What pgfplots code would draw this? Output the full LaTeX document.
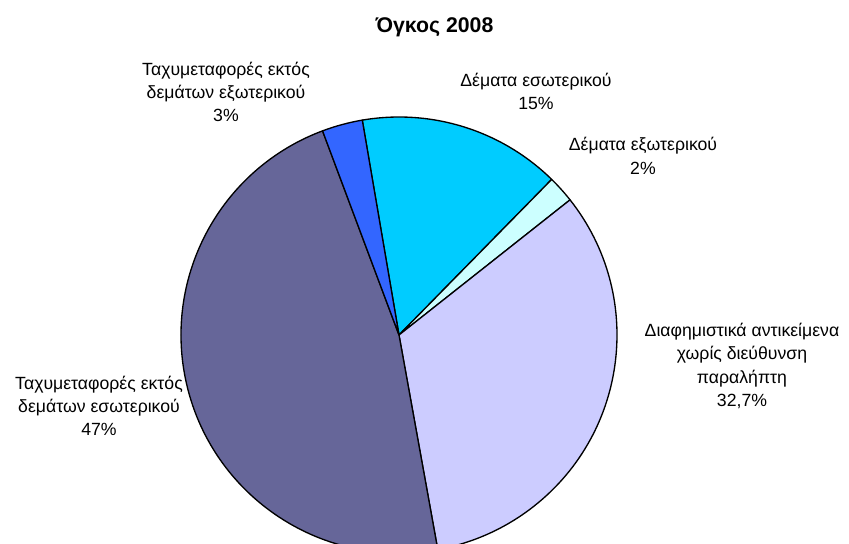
\documentclass[border=0pt]{standalone}
\usepackage{fontspec}
\setmainfont{Liberation Sans}
\usepackage{pgfplots}
\usepackage{pgfplotstable}
\pgfplotsset{compat=1.18}
\definecolor{c0}{HTML}{00CCFF}
\definecolor{c1}{HTML}{CCFFFF}
\definecolor{c2}{HTML}{CCCCFF}
\definecolor{c3}{HTML}{666699}
\definecolor{c4}{HTML}{3366FF}
% order clockwise starting from the top slice
\pgfplotstableread[col sep=comma]{
label,value
Demata esoterikou,15
Demata exoterikou,2
Diafimistika,32.7
Taxy esoterikou,47
Taxy exoterikou,3
}\piedata
\begin{document}
\begin{tikzpicture}
\begin{axis}[width=636.75bp,height=408bp,scale only axis,
  xmin=0,xmax=849,ymin=0,ymax=544,hide axis,clip=false]
\coordinate (ll) at (axis cs:0,0);
\coordinate (ur) at (axis cs:849,544);
\gdef\cum{0}
\pgfplotsinvokeforeach{0,...,4}{%
  \pgfplotstablegetelem{#1}{value}\of\piedata
  \let\val\pgfplotsretval
  \pgfmathsetmacro\sa{99.7-\cum/99.7*360}
  \pgfmathsetmacro\ea{99.7-(\cum+\val)/99.7*360}
  \pgfmathsetmacro\newcum{\cum+\val}
  \xdef\cum{\newcum}
  \edef\temp{\noexpand\filldraw[fill=c#1,draw=black,line width=1bp,line join=round]
    (axis cs:399,209) -- ++(\sa:163.5bp) arc[start angle=\sa, end angle=\ea, radius=163.5bp] -- cycle;}
  \temp
}
\begin{scope}[every node/.style={align=center,font=\fontsize{13.3}{17.6}\selectfont,inner sep=0pt}]
\node at (axis cs:434.5,517) {\fontsize{16}{19}\selectfont\bfseries Όγκος 2008};
\node at (axis cs:226,452) {Ταχυμεταφορές εκτός\\δεμάτων εξωτερικού\\3\%};
\node at (axis cs:536,452.5) {Δέματα εσωτερικού\\15\%};
\node at (axis cs:643,388) {Δέματα εξωτερικού\\2\%};
\node at (axis cs:742,178) {Διαφημιστικά αντικείμενα\\χωρίς διεύθυνση\\παραλήπτη\\32,7\%};
\node at (axis cs:99,138) {Ταχυμεταφορές εκτός\\δεμάτων εσωτερικού\\47\%};
\end{scope}
\end{axis}
\pgfresetboundingbox
\path (ll) rectangle (ur);
\end{tikzpicture}
\end{document}
